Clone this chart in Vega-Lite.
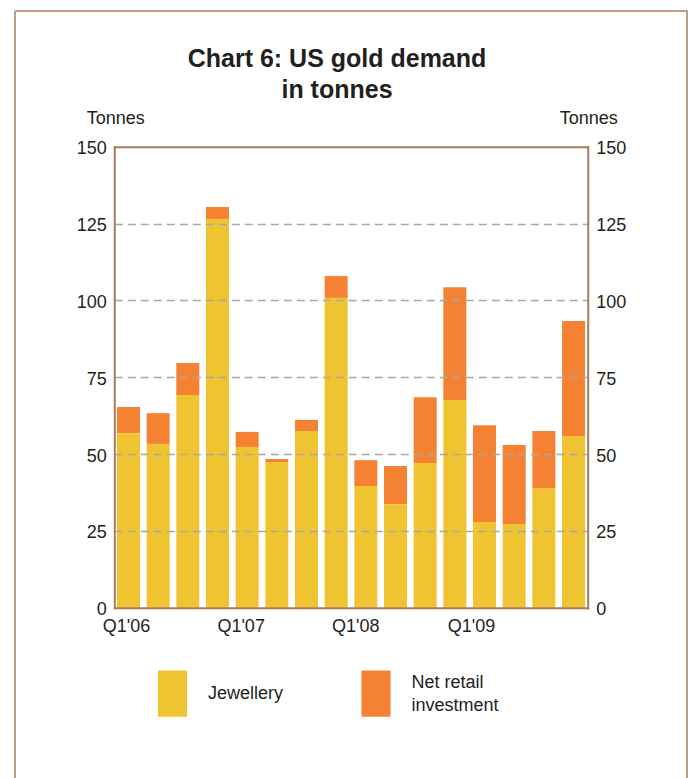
{
  "$schema": "https://vega.github.io/schema/vega-lite/v6.json",
  "width": 672,
  "height": 767,
  "autosize": {"type": "none"},
  "padding": {"left": 15, "top": 11, "right": 9, "bottom": 0},
  "background": "white",
  "title": {
    "text": ["Chart 6: US gold demand", "in tonnes"],
    "font": "Liberation Sans",
    "fontSize": 25,
    "fontWeight": "bold",
    "color": "#231F20",
    "anchor": "middle",
    "frame": "group",
    "baseline": "alphabetic",
    "lineHeight": 31,
    "offset": -56,
    "dy": 56,
    "dx": -14
  },
  "data": {
    "values": [
      {"quarter": "Q1'06", "type": "Jewellery", "tonnes": 56.8},
      {"quarter": "Q1'06", "type": "Net retail investment", "tonnes": 8.5},
      {"quarter": "Q2'06", "type": "Jewellery", "tonnes": 53.3},
      {"quarter": "Q2'06", "type": "Net retail investment", "tonnes": 10.0},
      {"quarter": "Q3'06", "type": "Jewellery", "tonnes": 69.2},
      {"quarter": "Q3'06", "type": "Net retail investment", "tonnes": 10.4},
      {"quarter": "Q4'06", "type": "Jewellery", "tonnes": 126.5},
      {"quarter": "Q4'06", "type": "Net retail investment", "tonnes": 3.9},
      {"quarter": "Q1'07", "type": "Jewellery", "tonnes": 52.3},
      {"quarter": "Q1'07", "type": "Net retail investment", "tonnes": 4.9},
      {"quarter": "Q2'07", "type": "Jewellery", "tonnes": 47.4},
      {"quarter": "Q2'07", "type": "Net retail investment", "tonnes": 1.0},
      {"quarter": "Q3'07", "type": "Jewellery", "tonnes": 57.5},
      {"quarter": "Q3'07", "type": "Net retail investment", "tonnes": 3.6},
      {"quarter": "Q4'07", "type": "Jewellery", "tonnes": 100.8},
      {"quarter": "Q4'07", "type": "Net retail investment", "tonnes": 7.1},
      {"quarter": "Q1'08", "type": "Jewellery", "tonnes": 39.6},
      {"quarter": "Q1'08", "type": "Net retail investment", "tonnes": 8.4},
      {"quarter": "Q2'08", "type": "Jewellery", "tonnes": 33.7},
      {"quarter": "Q2'08", "type": "Net retail investment", "tonnes": 12.4},
      {"quarter": "Q3'08", "type": "Jewellery", "tonnes": 47.1},
      {"quarter": "Q3'08", "type": "Net retail investment", "tonnes": 21.4},
      {"quarter": "Q4'08", "type": "Jewellery", "tonnes": 67.6},
      {"quarter": "Q4'08", "type": "Net retail investment", "tonnes": 36.7},
      {"quarter": "Q1'09", "type": "Jewellery", "tonnes": 27.9},
      {"quarter": "Q1'09", "type": "Net retail investment", "tonnes": 31.5},
      {"quarter": "Q2'09", "type": "Jewellery", "tonnes": 27.2},
      {"quarter": "Q2'09", "type": "Net retail investment", "tonnes": 25.7},
      {"quarter": "Q3'09", "type": "Jewellery", "tonnes": 38.9},
      {"quarter": "Q3'09", "type": "Net retail investment", "tonnes": 18.6},
      {"quarter": "Q4'09", "type": "Jewellery", "tonnes": 55.9},
      {"quarter": "Q4'09", "type": "Net retail investment", "tonnes": 37.4}
    ]
  },
  "layer": [
    {
      "mark": {"type": "bar"},
      "encoding": {
        "x": {
          "field": "quarter",
          "type": "ordinal",
          "sort": null,
          "scale": {"range": [99.3, 572.7], "paddingInner": 0.225, "paddingOuter": 0.09},
          "axis": {
            "orient": "bottom",
            "offset": -170.3,
            "values": ["Q1'06", "Q1'07", "Q1'08", "Q1'09"],
            "labelAngle": 0,
            "labelBaseline": "top",
            "labelPadding": 10,
            "labelOffset": {
              "condition": [
                {"test": "datum.value === \"Q1'07\"", "value": -6},
                {"test": "datum.value === \"Q1'08\"", "value": -10},
                {"test": "datum.value === \"Q1'09\"", "value": -13}
              ],
              "value": -2
            },
            "ticks": false,
            "title": null,
            "zindex": 2
          }
        },
        "y": {
          "field": "tonnes",
          "type": "quantitative",
          "stack": "zero",
          "scale": {"domain": [0, 150], "range": [596.7, 135.7], "nice": false},
          "axis": {
            "orient": "left",
            "offset": -99.3,
            "values": [0, 25, 50, 75, 100, 125, 150],
            "grid": true,
            "gridColor": "#A8A8A8",
            "gridDash": [8, 5],
            "gridWidth": 1.5,
            "gridOpacity": {
              "condition": {"test": "datum.value === 0 || datum.value === 150", "value": 0},
              "value": 1
            },
            "ticks": false,
            "labelPadding": 8,
            "labelOffset": 2,
            "title": "Tonnes",
            "titleAngle": 0,
            "titleAlign": "center",
            "titleBaseline": "alphabetic",
            "titleX": 1,
            "titleY": 112,
            "zindex": 2
          }
        },
        "color": {
          "field": "type",
          "type": "nominal",
          "scale": {
            "domain": ["Jewellery", "Net retail investment"],
            "range": ["#F0C431", "#F58232"]
          },
          "legend": {
            "orient": "none",
            "direction": "horizontal",
            "legendX": 143,
            "legendY": 668,
            "title": null,
            "padding": 0,
            "symbolType": "M-1,-1.6H1V1.6H-1Z",
            "symbolSize": 841,
            "symbolStrokeWidth": 0,
            "symbolOpacity": 1,
            "labelOffset": 21,
            "columnPadding": 77.5,
            "labelFontSize": 18,
            "labelLimit": 300,
            "labelBaseline": {"expr": "datum.label === 'Net retail investment' ? 'line-bottom' : 'middle'"},
            "labelExpr": "datum.label === 'Net retail investment' ? ['Net retail', 'investment'] : datum.label"
          }
        },
        "order": {"field": "type", "sort": "ascending"}
      }
    },
    {
      "mark": {"type": "bar", "opacity": 0},
      "encoding": {
        "x": {
          "field": "quarter",
          "type": "ordinal",
          "sort": null,
          "axis": {
            "orient": "top",
            "offset": -135.7,
            "labels": false,
            "ticks": false,
            "grid": false,
            "title": null,
            "zindex": 2
          }
        },
        "y": {
          "field": "tonnes",
          "type": "quantitative",
          "stack": null,
          "axis": {
            "orient": "right",
            "offset": -99.3,
            "values": [0, 25, 50, 75, 100, 125, 150],
            "grid": false,
            "ticks": false,
            "labelPadding": 8,
            "labelOffset": 2,
            "title": "Tonnes",
            "titleAngle": 0,
            "titleAlign": "center",
            "titleBaseline": "alphabetic",
            "titleX": 0.5,
            "titleY": 112,
            "zindex": 2
          }
        }
      }
    }
  ],
  "resolve": {"axis": {"x": "independent", "y": "independent"}},
  "config": {
    "font": "Liberation Sans",
    "view": {
      "stroke": "#C49A80",
      "strokeWidth": 2,
      "strokeDash": [1439, 672, 767, 0]
    },
    "axis": {
      "domainColor": "#A97B5F",
      "domainWidth": 2,
      "domainCap": "square",
      "labelFont": "Liberation Sans",
      "labelFontSize": 18,
      "labelColor": "#231F20",
      "titleFont": "Liberation Sans",
      "titleFontSize": 18,
      "titleFontWeight": "normal",
      "titleColor": "#231F20"
    },
    "legend": {
      "labelFont": "Liberation Sans",
      "labelColor": "#231F20"
    },
    "style": {
      "guide-label": {"lineHeight": 23}
    }
  }
}
